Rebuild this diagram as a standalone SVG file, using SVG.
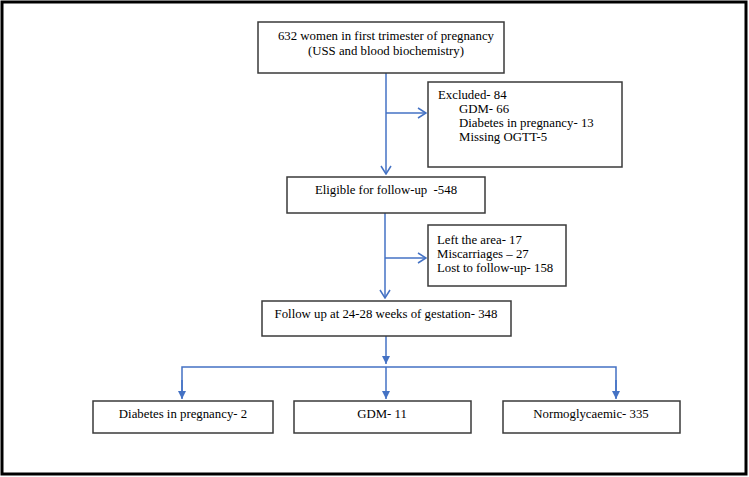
<svg xmlns="http://www.w3.org/2000/svg" width="749" height="477" viewBox="0 0 749 477">
<style>
.box{fill:#fff;stroke:#3a3a3a;stroke-width:1.5}
.t{font-family:"Liberation Serif","Times New Roman",serif;font-size:12.8px;fill:#000}
.c{text-anchor:middle}
.ln{fill:none;stroke:#4472c4;stroke-width:1.5}
</style>
<defs>
<marker id="open" markerWidth="10" markerHeight="12" refX="9" refY="6" orient="auto" markerUnits="userSpaceOnUse">
<path d="M1,1 L9,6 L1,11" fill="none" stroke="#4472c4" stroke-width="1.5"/>
</marker>
<marker id="fill" markerWidth="10" markerHeight="10" refX="8" refY="5" orient="auto" markerUnits="userSpaceOnUse">
<path d="M0,1 L8,5 L0,9 Z" fill="#4472c4"/>
</marker>
</defs>
<rect x="2" y="2" width="744" height="472" fill="#fff" stroke="#000" stroke-width="3"/>
<g id="connectors">
<line class="ln" x1="386" y1="73" x2="386" y2="174" marker-end="url(#open)"/>
<line class="ln" x1="386" y1="113" x2="426" y2="113" marker-end="url(#open)"/>
<line class="ln" x1="385" y1="213" x2="385" y2="298" marker-end="url(#open)"/>
<line class="ln" x1="385" y1="258" x2="426" y2="258" marker-end="url(#open)"/>
<line class="ln" x1="386" y1="336" x2="386" y2="364" marker-end="url(#fill)"/>
<polyline class="ln" points="182,398 182,367 616,367 616,398"/>
<line class="ln" x1="182" y1="380" x2="182" y2="399" marker-end="url(#fill)"/>
<line class="ln" x1="386" y1="367" x2="386" y2="399" marker-end="url(#fill)"/>
<line class="ln" x1="616" y1="380" x2="616" y2="399" marker-end="url(#fill)"/>
</g>
<g id="n1">
<rect class="box" x="258" y="22" width="246" height="51"/>
<text class="t c" x="386" y="40">632 women in first trimester of pregnancy</text>
<text class="t c" x="386" y="55">(USS and blood biochemistry)</text>
</g>
<g id="n2">
<rect class="box" x="428" y="82" width="194" height="85"/>
<text class="t" x="438" y="99">Excluded- 84</text>
<text class="t" x="459" y="113">GDM- 66</text>
<text class="t" x="459" y="127">Diabetes in pregnancy- 13</text>
<text class="t" x="459" y="141">Missing OGTT-5</text>
</g>
<g id="n3">
<rect class="box" x="287" y="177" width="198" height="36"/>
<text class="t c" x="386" y="194" xml:space="preserve">Eligible for follow-up  -548</text>
</g>
<g id="n4">
<rect class="box" x="428" y="225" width="138" height="61"/>
<text class="t" x="437" y="244">Left the area- 17</text>
<text class="t" x="437" y="258">Miscarriages – 27</text>
<text class="t" x="437" y="272">Lost to follow-up- 158</text>
</g>
<g id="n5">
<rect class="box" x="262" y="301" width="249" height="35"/>
<text class="t c" x="386" y="318">Follow up at 24-28 weeks of gestation- 348</text>
</g>
<g id="n6">
<rect class="box" x="93" y="401" width="180" height="32"/>
<text class="t c" x="183" y="418">Diabetes in pregnancy- 2</text>
</g>
<g id="n7">
<rect class="box" x="294" y="401" width="177" height="32"/>
<text class="t c" x="382" y="418">GDM- 11</text>
</g>
<g id="n8">
<rect class="box" x="503" y="401" width="177" height="32"/>
<text class="t c" x="591" y="418">Normoglycaemic- 335</text>
</g>
</svg>
